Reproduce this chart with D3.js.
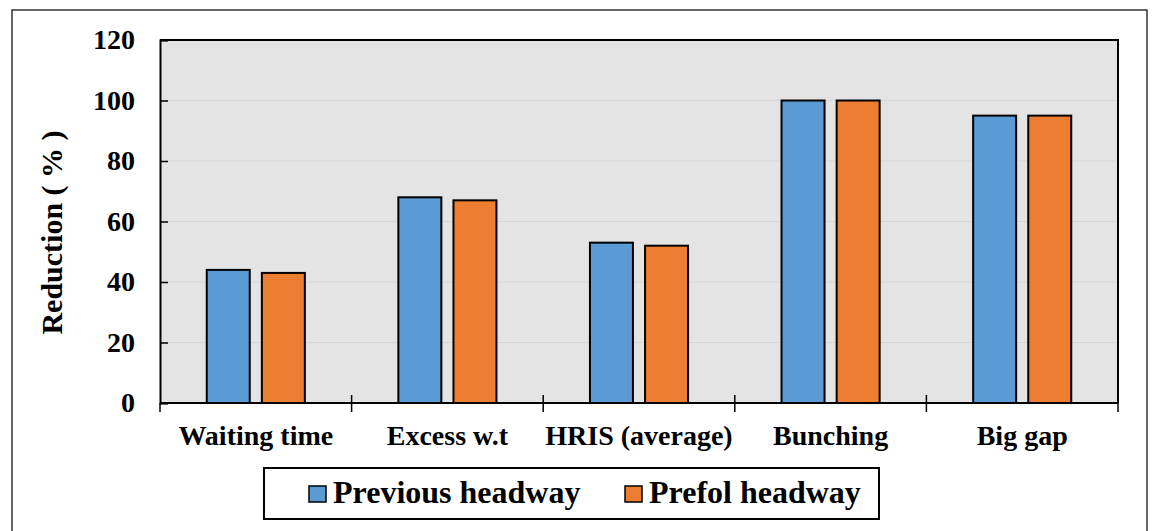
<!DOCTYPE html>
<html>

<head>
    <meta charset=utf-8 />
    <script src="https://cdn.jsdelivr.net/npm/d3@7"></script>
    <title>Reduction chart</title>
    <style>
        html,
        body {
            margin: 0;
            padding: 0;
            background: #fff;
        }

        text {
            font-family: "Liberation Serif", "Times New Roman", serif;
            font-weight: bold;
            fill: #000;
        }
    </style>
</head>

<body>
    <div id="svg-canvas"></div>
    <script>
        // data
        var categories = ['Waiting time', 'Excess w.t', 'HRIS (average)', 'Bunching', 'Big gap'];
        var seriesNames = ['Previous headway', 'Prefol headway'];
        var previousHeadway = [44, 68, 53, 100, 95];
        var prefolHeadway = [43, 67, 52, 100, 95];
        var yTicks = [0, 20, 40, 60, 80, 100, 120];
        var colors = ['#5B9BD5', '#ED7D31'];

        var W = 1152, H = 531;
        var plot = { left: 160, top: 40, right: 1118, bottom: 403 };

        var svg = d3.select('#svg-canvas').append('svg')
            .attr('width', W)
            .attr('height', H);

        // outer frame
        svg.append('rect')
            .attr('x', 12).attr('y', 10)
            .attr('width', 1135).attr('height', 540)
            .attr('fill', 'none')
            .attr('stroke', '#333')
            .attr('stroke-width', 1.5);

        var x0 = d3.scaleBand().domain(categories).range([plot.left, plot.right]);
        var groupW = x0.bandwidth() * 0.512;
        var x1 = d3.scaleBand().domain(seriesNames)
            .range([(x0.bandwidth() - groupW) / 2, (x0.bandwidth() + groupW) / 2])
            .paddingInner(0.22);
        var y = d3.scaleLinear().domain([0, 120]).range([plot.bottom, plot.top]);

        // plot background
        svg.append('rect')
            .attr('x', plot.left).attr('y', plot.top)
            .attr('width', plot.right - plot.left)
            .attr('height', plot.bottom - plot.top)
            .attr('fill', '#e4e4e4');

        // gridlines
        svg.append('g')
            .selectAll('line')
            .data(yTicks.filter(d => d > 0 && d < 120))
            .join('line')
            .attr('x1', plot.left).attr('x2', plot.right)
            .attr('y1', d => y(d)).attr('y2', d => y(d))
            .attr('stroke', '#d6d6d6')
            .attr('stroke-width', 1.2);

        // bars
        var table = categories.map((c, i) => ({
            cat: c,
            vals: [previousHeadway[i], prefolHeadway[i]]
        }));

        var groups = svg.append('g')
            .selectAll('g')
            .data(table)
            .join('g')
            .attr('transform', d => 'translate(' + x0(d.cat) + ',0)');

        groups.selectAll('rect')
            .data(d => d.vals.map((v, j) => ({ s: seriesNames[j], v: v, j: j })))
            .join('rect')
            .attr('x', d => x1(d.s))
            .attr('y', d => y(d.v))
            .attr('width', x1.bandwidth())
            .attr('height', d => y(0) - y(d.v))
            .attr('fill', d => colors[d.j])
            .attr('stroke', '#000')
            .attr('stroke-width', 2);

        // top and right frame of plot
        svg.append('path')
            .attr('d', 'M' + plot.left + ',' + plot.top + 'H' + plot.right + 'V' + plot.bottom)
            .attr('fill', 'none')
            .attr('stroke', '#000')
            .attr('stroke-width', 2);

        // y axis
        var axisY = svg.append('g')
            .attr('transform', 'translate(' + plot.left + ',0)')
            .call(d3.axisRight(y).tickValues(yTicks).tickSize(8).tickFormat(d3.format('d')));
        axisY.select('.domain').attr('stroke', '#000').attr('stroke-width', 2);
        axisY.selectAll('.tick line').attr('stroke', '#000').attr('stroke-width', 1.5);
        axisY.selectAll('.tick text')
            .attr('x', -25)
            .attr('text-anchor', 'end')
            .style('font-size', '28px')
            .style('font-family', '"Liberation Serif", serif')
            .style('font-weight', 'bold')
            .attr('fill', '#000');

        // x axis line and ticks
        svg.append('line')
            .attr('x1', plot.left).attr('x2', plot.right)
            .attr('y1', plot.bottom).attr('y2', plot.bottom)
            .attr('stroke', '#000').attr('stroke-width', 2);

        var xTickPos = categories.map(c => x0(c)).concat([plot.right]);
        svg.append('g')
            .selectAll('line')
            .data(xTickPos)
            .join('line')
            .attr('x1', d => d).attr('x2', d => d)
            .attr('y1', (d, i) => i === 0 ? plot.bottom : plot.bottom - 8)
            .attr('y2', plot.bottom + 9)
            .attr('stroke', '#000').attr('stroke-width', 1.5);

        svg.append('g')
            .selectAll('text')
            .data(categories)
            .join('text')
            .attr('x', d => x0(d) + x0.bandwidth() / 2)
            .attr('y', 445)
            .attr('text-anchor', 'middle')
            .style('font-size', '28px')
            .text(d => d);

        // y title
        svg.append('text')
            .attr('transform', 'translate(62,' + ((plot.top + plot.bottom) / 2 + 11) + ') rotate(-90)')
            .attr('text-anchor', 'middle')
            .style('font-size', '30px')
            .text('Reduction ( % )');

        // legend
        var legend = svg.append('g');
        legend.append('rect')
            .attr('x', 264).attr('y', 468)
            .attr('width', 615).attr('height', 51)
            .attr('fill', '#fff')
            .attr('stroke', '#000')
            .attr('stroke-width', 2);

        var legendX = [309, 625];
        var items = legend.selectAll('g.item')
            .data(seriesNames)
            .join('g')
            .attr('class', 'item')
            .attr('transform', (d, i) => 'translate(' + legendX[i] + ',0)');
        items.append('rect')
            .attr('x', 0).attr('y', 486)
            .attr('width', 17).attr('height', 16)
            .attr('fill', (d, i) => colors[i])
            .attr('stroke', '#000')
            .attr('stroke-width', 1.5);
        items.append('text')
            .attr('x', 24).attr('y', 503)
            .style('font-size', '32px')
            .text(d => d);
    </script>
</body>

</html>
